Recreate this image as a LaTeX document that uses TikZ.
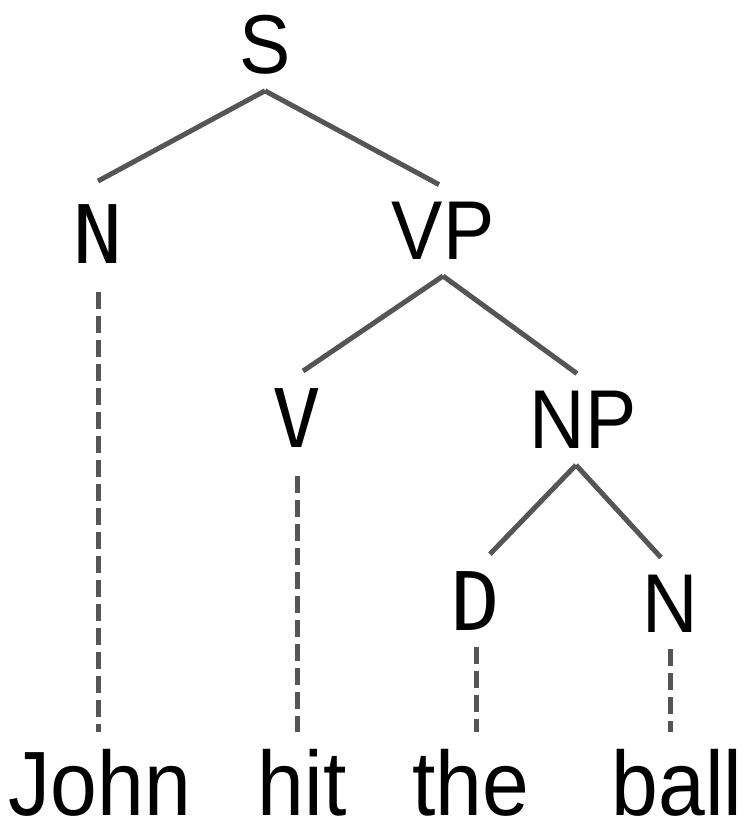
\documentclass[tikz,border=0pt]{standalone}
\usepackage{fontspec}
\setmainfont[FakeStretch=0.92]{Liberation Sans}
\newfontfamily\lexfont{DejaVu Sans Mono}
\usetikzlibrary{calc}
\definecolor{edgegray}{HTML}{555555}

\begin{document}
\begin{tikzpicture}[phrase/.style={inner sep=0, outer sep=.34cm, anchor=base, font=\fontsize{47.5}{50}\selectfont},
lex/.style={phrase, font=\lexfont\fontsize{46}{50}\selectfont},
word/.style={phrase, font=\fontsize{52}{56}\selectfont},
branch/.style={draw=edgegray, line width=.1cm},
leaf/.style={branch, dash pattern=on .34cm off .14cm}]
\useasboundingbox (0,0) rectangle (14.9,-16.36);
\node[phrase] (s) at (5.30,-1.46) {S};
\node[lex] (n1) at (1.96,-5.26) {N};
\node[phrase] (vp) at (8.86,-5.18) {VP};
\node[lex] (v) at (5.94,-8.94) {V};
\node[phrase] (np) at (11.66,-8.96) {NP};
\node[lex] (d) at (9.52,-12.60) {D};
\node[phrase] (n2) at (13.40,-12.64) {N};
\node[word] (john) at (2.00,-16.30) {John};
\node[word] (hit) at (6.04,-16.30) {hit};
\node[word] (the) at (9.42,-16.30) {the};
\node[word] (ball) at (13.54,-16.30) {ball};
\draw[branch] (s.south) -- ([yshift=.12cm]n1.north);
\draw[branch] (s.south) -- ([xshift=-.08cm]vp.north);
\draw[branch] (vp.south) -- ([xshift=.12cm]v.north);
\draw[branch] (vp.south) -- ([xshift=-.12cm]np.north);
\draw[branch] ([xshift=-.14cm]np.south) -- ([xshift=.28cm]d.north);
\draw[branch] ([xshift=-.14cm]np.south) -- ([xshift=-.18cm]n2.north);
%\draw[leaf] (n1) -- (john);
\draw[leaf, shorten <=.24cm] (n1.south) -- (n1.south |- john.north);
\draw[leaf, shorten <=.24cm] (v.south) -- (v.south |- hit.north);
\draw[leaf] (d.south) -- (d.south |- the.north);
\draw[leaf] (n2.south) -- (n2.south |- ball.north);
\end{tikzpicture}
\end{document}
